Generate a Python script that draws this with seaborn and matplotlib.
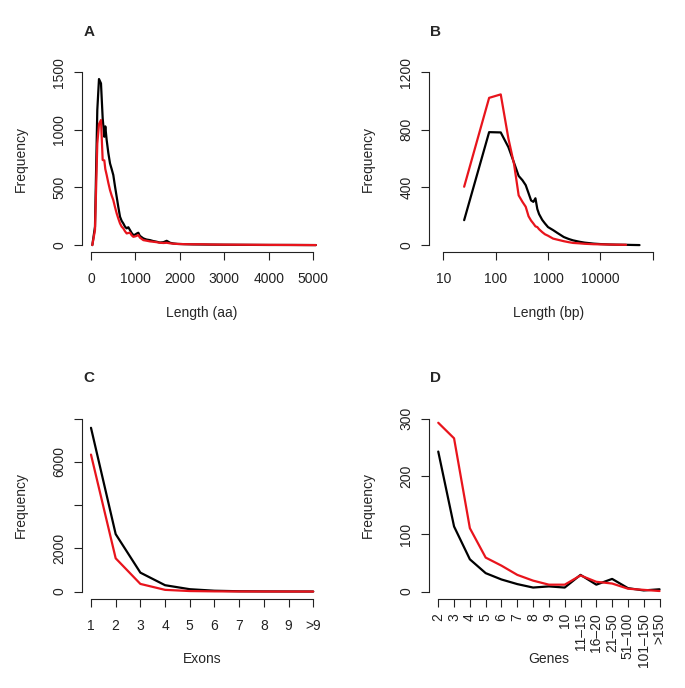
import matplotlib
matplotlib.use("Agg")
import matplotlib.pyplot as plt
import numpy as np
import seaborn as sns

# A: protein length distribution (aa)
aa_length = [30, 90, 142, 180, 225, 263, 300, 322, 353, 390, 428, 465, 502, 540,
             578, 615, 653, 690, 727, 765, 803, 840, 878, 915, 953, 990, 1028,
             1065, 1100, 1178, 1250, 1328, 1400, 1478, 1550, 1630, 1703, 1780,
             1853, 1950, 2100, 2300, 2500, 2700, 3000, 3500, 4000, 4500, 5060]
aa_black = [0, 159, 1172, 1441, 1403, 1100, 940, 1030, 911, 800, 709, 660, 608, 510,
            419, 330, 246, 210, 188, 160, 145, 155, 130, 105, 87, 90, 100,
            107, 80, 58, 48, 43, 35, 29, 22, 25, 37, 20,
            14, 10, 8, 6, 5, 4, 3, 2, 1, 1, 0]
aa_red = [0, 130, 880, 1050, 1085, 738, 735, 660, 608, 540, 477, 430, 390, 330,
          275, 230, 188, 160, 145, 120, 101, 105, 107, 85, 72, 75, 80,
          87, 65, 43, 38, 32, 29, 25, 20, 18, 20, 15,
          12, 10, 8, 7, 7, 5, 4, 3, 2, 1, 0]

# B: length distribution (bp), log axis
bp_length_black = [25, 75, 125, 175, 225, 275, 325, 375, 425, 475, 525, 575, 625, 675,
                   775, 875, 1000, 1250, 1500, 2000, 2500, 3000, 4000, 5000, 7500,
                   10000, 15000, 20000, 31000, 40000, 56000]
bp_black = [173, 784, 782, 680, 570, 480, 450, 416, 360, 310, 300, 325, 250, 215,
            175, 150, 125, 104, 85, 56, 42, 33, 23, 17, 10,
            7, 4, 3, 2, 1, 0]
bp_length_red = [25, 75, 125, 175, 225, 275, 325, 375, 425, 475, 525, 575, 625, 675,
                 775, 875, 1000, 1250, 1500, 2000, 2500, 3000, 4000, 5000, 7500,
                 10000, 15000, 20000, 31000]
bp_red = [405, 1022, 1046, 740, 560, 345, 300, 266, 200, 170, 150, 130, 125, 110,
          90, 75, 65, 45, 38, 27, 20, 15, 12, 9, 6,
          5, 4, 3, 2]

# C: exons per gene
exon_labels = ["1", "2", "3", "4", "5", "6", "7", "8", "9", ">9"]
exon_black = [7580, 2660, 877, 295, 110, 40, 15, 8, 5, 3]
exon_red = [6340, 1540, 355, 80, 25, 10, 5, 3, 2, 1]

# D: genes per cluster
gene_labels = ["2", "3", "4", "5", "6", "7", "8", "9", "10", "11\u201315",
               "16\u201320", "21\u201350", "51\u2013100", "101\u2013150", ">150"]
gene_black = [243, 113, 56, 32, 21, 13, 7, 9, 7, 29, 12, 22, 6, 2, 4]
gene_red = [293, 266, 110, 59, 45, 29, 19, 12, 12, 28, 17, 14, 5, 3, 1]

RED = "#e8141c"
LW = 1.6

sns.set_style("ticks")
plt.rcParams["font.family"] = ["Liberation Sans", "DejaVu Sans"]
plt.rcParams["font.size"] = 10

W, H = 685, 688
fig = plt.figure(figsize=(W / 100, H / 100), dpi=100)


def panel(left, bottom, width, height):
    return fig.add_axes([left / W, 1 - bottom / H, width / W, height / H])


axA = panel(82.1, 252.0, 240, 186.7)
axB = panel(429.4, 252.0, 239, 186.7)
axC = panel(82.1, 598.5, 240, 186.7)
axD = panel(429.4, 598.5, 239, 186.7)

# draw
sns.lineplot(x=aa_length, y=aa_black, color="black", lw=LW, ax=axA)
sns.lineplot(x=aa_length, y=aa_red, color=RED, lw=LW, ax=axA)

axB.set_xscale("log")
sns.lineplot(x=bp_length_black, y=bp_black, color="black", lw=LW, ax=axB)
sns.lineplot(x=bp_length_red, y=bp_red, color=RED, lw=LW, ax=axB)

exon_pos = np.arange(1, len(exon_labels) + 1)
sns.lineplot(x=exon_pos, y=exon_black, color="black", lw=LW, ax=axC)
sns.lineplot(x=exon_pos, y=exon_red, color=RED, lw=LW, ax=axC)

gene_pos = np.arange(1, len(gene_labels) + 1)
sns.lineplot(x=gene_pos, y=gene_black, color="black", lw=LW, ax=axD)
sns.lineplot(x=gene_pos, y=gene_red, color=RED, lw=LW, ax=axD)

# axes, R base-graphics look
axA.set_xlim(-200, 5200)
axA.set_ylim(-60, 1560)
axA.set_xticks(range(0, 5001, 1000))
axA.set_yticks([0, 500, 1000, 1500])
axA.spines["bottom"].set_bounds(0, 5000)
axA.spines["left"].set_bounds(0, 1500)
axA.set_xlabel("Length (aa)")

axB.set_xlim(10 ** 0.734, 10 ** 5.30)
axB.set_ylim(-48, 1248)
axB.set_xticks([10, 100, 1000, 10000, 100000])
axB.set_xticklabels(["10", "100", "1000", "10000", ""])
axB.xaxis.set_minor_locator(matplotlib.ticker.NullLocator())
axB.set_yticks([0, 400, 800, 1200])
axB.spines["bottom"].set_bounds(10, 100000)
axB.spines["left"].set_bounds(0, 1200)
axB.set_xlabel("Length (bp)")

axC.set_xlim(0.64, len(exon_labels) + 0.36)
axC.set_ylim(-320, 8320)
axC.set_xticks(exon_pos)
axC.set_xticklabels(exon_labels)
axC.set_yticks([0, 2000, 4000, 6000, 8000])
axC.set_yticklabels(["0", "2000", "", "6000", ""])
axC.spines["bottom"].set_bounds(1, len(exon_labels))
axC.spines["left"].set_bounds(0, 8000)
axC.set_xlabel("Exons")

axD.set_xlim(0.44, len(gene_labels) + 0.56)
axD.set_ylim(-12, 312)
axD.set_xticks(gene_pos)
axD.set_xticklabels(gene_labels, rotation=90, va="top", ha="center")
axD.set_yticks([0, 100, 200, 300])
axD.spines["bottom"].set_bounds(1, len(gene_labels))
axD.spines["left"].set_bounds(0, 300)
axD.set_xlabel("Genes")

for ax in (axA, axB, axC, axD):
    sns.despine(ax=ax)
    ax.set_ylabel("Frequency")
    ax.yaxis.set_label_coords(-0.227, 0.5)
    ax.xaxis.set_label_coords(0.5, -0.287)
    ax.tick_params(axis="x", length=5.5, width=0.8, pad=9, labelsize=10, colors="#222222")
    ax.tick_params(axis="y", length=5.5, width=0.8, pad=6, labelsize=10, colors="#222222")
    for lab in ax.get_yticklabels():
        lab.set_rotation(90)
        lab.set_va("center")
    for s in ("left", "bottom"):
        ax.spines[s].set_linewidth(0.8)
        ax.spines[s].set_color("#222222")

axD.tick_params(axis="x", pad=5)

for letter, x, y in (("A", 83.3, 36), ("B", 430, 36), ("C", 83.3, 382), ("D", 430, 382)):
    fig.text(x / W, 1 - y / H, letter, fontsize=11, fontweight="bold", ha="left", va="baseline")

fig.savefig("out.png", dpi=100)
